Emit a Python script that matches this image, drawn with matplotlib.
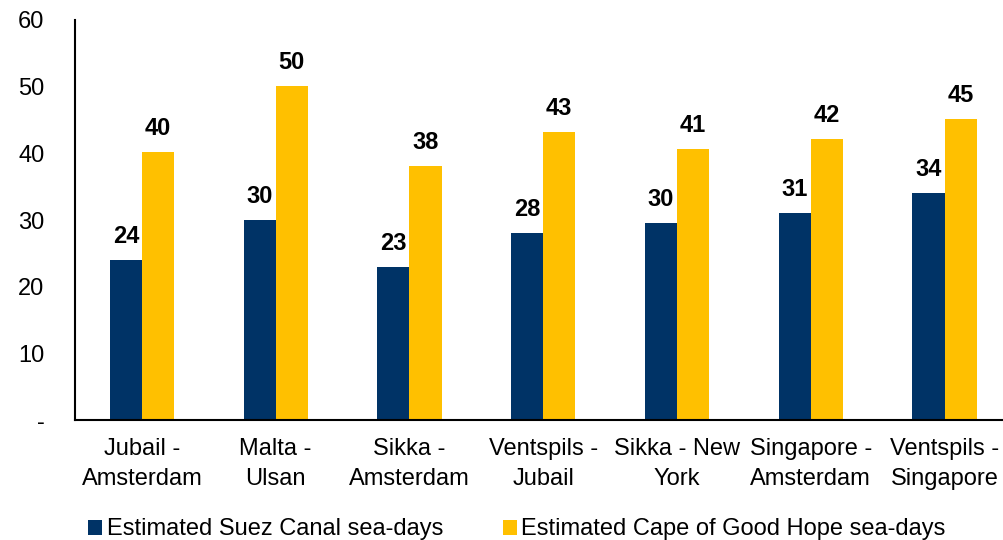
import matplotlib.pyplot as plt
import numpy as np

# Dane
trasy = ['Jubail -\nAmsterdam', 'Malta -\nUlsan', 'Sikka -\nAmsterdam', 'Ventspils -\nJubail',
         'Sikka - New\nYork', 'Singapore -\nAmsterdam', 'Ventspils -\nSingapore']
suez = [24, 30, 23, 28, 29.6, 31.1, 34.1]
cape = [40.2, 50.1, 38.1, 43.2, 40.6, 42.1, 45.1]
y_ticks = [0, 10, 20, 30, 40, 50, 60]
y_labels = ['-', '10', '20', '30', '40', '50', '60']

plt.rcParams['font.family'] = ['Liberation Sans', 'DejaVu Sans']

fig = plt.figure(figsize=(10.04, 5.4), dpi=100)
ax = fig.add_axes([0.0747, 0.222, 0.93, 0.741])

x = np.arange(len(trasy))
w = 0.24
b1 = ax.bar(x - w / 2, suez, w, color='#003366', label='Estimated Suez Canal sea-days')
b2 = ax.bar(x + w / 2, cape, w, color='#FFC000', label='Estimated Cape of Good Hope sea-days')

for bars, vals in ((b1, suez), (b2, cape)):
    for r, v in zip(bars, vals):
        ax.text(r.get_x() + r.get_width() / 2, v + 1.8, f'{v:.0f}', ha='center', va='bottom',
                fontsize=17, fontweight='bold')

ax.set_ylim(0, 60)
ax.set_xlim(-0.5, 6.48)
ax.set_yticks(y_ticks)
ax.set_yticklabels(y_labels, fontsize=17)
ax.set_xticks(x)
ax.set_xticklabels(trasy, fontsize=17, linespacing=1.45)
ax.tick_params(axis='y', length=0, pad=22)
ax.tick_params(axis='x', length=0, pad=13)
for s in ('top', 'right'):
    ax.spines[s].set_visible(False)
for s in ('left', 'bottom'):
    ax.spines[s].set_linewidth(1.5)
    ax.spines[s].set_color('black')

fig.legend(loc='lower center', bbox_to_anchor=(0.515, -0.04), ncol=2, frameon=False, fontsize=17,
           handlelength=0.6, handleheight=0.6, handletextpad=0.2, columnspacing=2.5)

plt.savefig('out.png', dpi=100)
